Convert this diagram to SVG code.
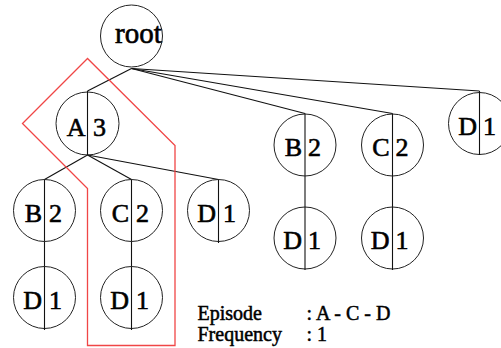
<svg xmlns="http://www.w3.org/2000/svg" width="501" height="348" viewBox="0 0 501 348">
  <style>
    .ring { fill: none; stroke: #222; stroke-width: 1; }
    .bar { stroke: #111; stroke-width: 1.1; }
    .edge { stroke: #111; stroke-width: 1.1; fill: none; }
    .lbl { font-family: "Liberation Serif", "Times New Roman", serif; font-size: 26px; fill: #000; stroke: #000; stroke-width: 0.6; }
    .key { font-family: "Liberation Serif", "Times New Roman", serif; font-size: 20px; fill: #000; stroke: #000; stroke-width: 0.5; }
    .path { fill: none; stroke: #f04646; stroke-width: 1.3; }
  </style>
  <rect width="501" height="348" fill="#fff"/>

  <!-- connectors -->
  <g id="connectors">
    <line class="edge" x1="131.5" y1="68.5" x2="87.5" y2="91"/>
    <line class="edge" x1="131.5" y1="68.5" x2="305" y2="113.5"/>
    <line class="edge" x1="131.5" y1="68.5" x2="392.5" y2="113.5"/>
    <line class="edge" x1="131.5" y1="68.5" x2="479.5" y2="91"/>
    <line class="edge" x1="87.5" y1="155" x2="44.5" y2="179.5"/>
    <line class="edge" x1="87.5" y1="155" x2="131.5" y2="179.5"/>
    <line class="edge" x1="87.5" y1="155" x2="218.5" y2="179.5"/>
    <line class="edge" x1="44.5" y1="241.5" x2="44.5" y2="266.5"/>
    <line class="edge" x1="131.5" y1="241.5" x2="131.5" y2="266.5"/>
    <line class="edge" x1="305" y1="176" x2="305" y2="207"/>
    <line class="edge" x1="392.5" y1="176" x2="392.5" y2="207"/>
  </g>

  <!-- nodes -->
  <g id="root">
    <circle class="ring" cx="131.5" cy="36" r="31"/>
    <text class="lbl" x="115" y="43" style="font-size:29px">root</text>
  </g>

  <g id="nA3">
    <circle class="ring" cx="87.5" cy="123.5" r="31.5"/>
    <line class="bar" x1="87.5" y1="91" x2="87.5" y2="155"/>
    <text class="lbl" x="85.5" y="135.5" text-anchor="end">A</text>
    <text class="lbl" x="93" y="135.5">3</text>
  </g>

  <g id="nB2a">
    <circle class="ring" cx="44.5" cy="210.5" r="31"/>
    <line class="bar" x1="44.5" y1="179.5" x2="44.5" y2="241.5"/>
    <text class="lbl" x="42" y="221.5" text-anchor="end">B</text>
    <text class="lbl" x="49" y="221.5">2</text>
  </g>

  <g id="nC2a">
    <circle class="ring" cx="131.5" cy="210.5" r="31"/>
    <line class="bar" x1="131.5" y1="179.5" x2="131.5" y2="241.5"/>
    <text class="lbl" x="129" y="221.5" text-anchor="end">C</text>
    <text class="lbl" x="136" y="221.5">2</text>
  </g>

  <g id="nD1a">
    <circle class="ring" cx="218.5" cy="210.5" r="31"/>
    <line class="bar" x1="218.5" y1="179.5" x2="218.5" y2="243"/>
    <text class="lbl" x="216" y="221.5" text-anchor="end">D</text>
    <text class="lbl" x="223" y="221.5">1</text>
  </g>

  <g id="nD1b">
    <circle class="ring" cx="44.5" cy="297.5" r="31"/>
    <line class="bar" x1="44.5" y1="266.5" x2="44.5" y2="330"/>
    <text class="lbl" x="42" y="308.5" text-anchor="end">D</text>
    <text class="lbl" x="49" y="308.5">1</text>
  </g>

  <g id="nD1c">
    <circle class="ring" cx="131.5" cy="297.5" r="31"/>
    <line class="bar" x1="131.5" y1="266.5" x2="131.5" y2="330"/>
    <text class="lbl" x="129" y="308.5" text-anchor="end">D</text>
    <text class="lbl" x="136" y="308.5">1</text>
  </g>

  <g id="nB2b">
    <circle class="ring" cx="305" cy="145" r="31"/>
    <line class="bar" x1="305" y1="113.5" x2="305" y2="176"/>
    <text class="lbl" x="302" y="155.5" text-anchor="end">B</text>
    <text class="lbl" x="308" y="155.5">2</text>
  </g>

  <g id="nC2b">
    <circle class="ring" cx="392.5" cy="145" r="31"/>
    <line class="bar" x1="392.5" y1="113.5" x2="392.5" y2="176"/>
    <text class="lbl" x="389.5" y="155.5" text-anchor="end">C</text>
    <text class="lbl" x="395.5" y="155.5">2</text>
  </g>

  <g id="nD1d">
    <circle class="ring" cx="305" cy="238" r="31"/>
    <line class="bar" x1="305" y1="207" x2="305" y2="270"/>
    <text class="lbl" x="302" y="248.5" text-anchor="end">D</text>
    <text class="lbl" x="308" y="248.5">1</text>
  </g>

  <g id="nD1e">
    <circle class="ring" cx="392.5" cy="238" r="31"/>
    <line class="bar" x1="392.5" y1="207" x2="392.5" y2="270"/>
    <text class="lbl" x="389.5" y="248.5" text-anchor="end">D</text>
    <text class="lbl" x="395.5" y="248.5">1</text>
  </g>

  <g id="nD1f">
    <circle class="ring" cx="479.5" cy="123.5" r="31"/>
    <line class="bar" x1="479.5" y1="91" x2="479.5" y2="155"/>
    <text class="lbl" x="477" y="134.5" text-anchor="end">D</text>
    <text class="lbl" x="483" y="134.5">1</text>
  </g>

  <!-- highlighted episode A-C-D -->
  <polygon class="path" points="87.5,58.5 22.5,123.5 87.5,188.5 87.5,345.5 175,345.5 175,145.5"/>

  <!-- legend -->
  <g id="legend">
    <text class="key" x="197.5" y="320">Episode</text>
    <text class="key" x="306.5" y="320">: A - C - D</text>
    <text class="key" x="197.5" y="341">Frequency</text>
    <text class="key" x="306.5" y="341">: 1</text>
  </g>
</svg>
